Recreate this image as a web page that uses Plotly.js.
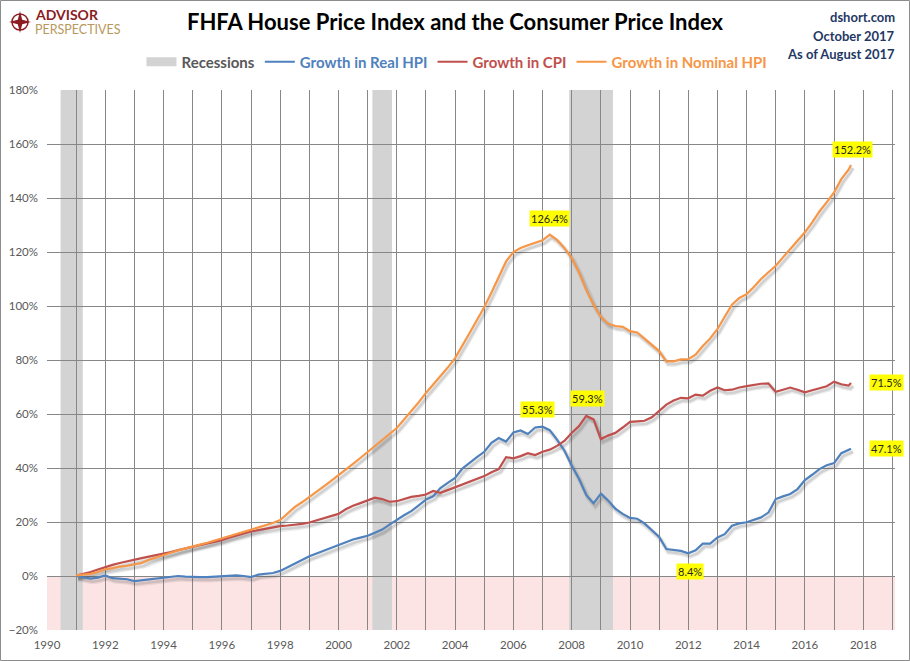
<!DOCTYPE html>
<html><head><meta charset="utf-8">
<script src="https://cdn.plot.ly/plotly-3.0.1.min.js"></script>
<style>html,body{margin:0;padding:0;background:#fff;}#chart{width:910px;height:661px;}</style>
</head><body><div id="chart"></div>
<script>
// ---- DATA (quarterly readings, Jan 1991 .. Aug 2017, % growth since Jan 1991) ----
const firstYear = 1991, lastYear = 2017, lastMonth = '2017-08-01';
const nominalHPI = [
 0.2,0.4,0.8,1.5, 2.5,2.9,3.5,3.8, 4.4,4.8,6.0,6.8, 7.7,8.6,9.5,10.3,
 11.1,11.6,12.3,13.1, 13.9,14.7,15.5,16.2, 17.0,17.8,18.7,19.6, 20.7,23.0,25.5,27.3,
 29.2,31.2,33.2,35.2, 37.2,39.4,41.5,43.7, 46.0,48.3,50.5,52.6, 54.8,57.8,61.0,64.3,
 67.8,70.8,74.0,77.2, 80.7,85.2,90.0,94.8, 99.6,105.0,111.0,116.5, 120.0,121.5,122.5,123.5,
 124.3,126.4,124.5,121.5, 117.8,112.5,106.0,100.5, 96.0,93.5,92.6,92.3, 90.7,90.2,88.0,85.5,
 83.3,79.5,79.5,80.2, 80.3,82.0,85.2,88.0, 91.5,96.0,100.5,103.0, 104.4,107.0,110.0,112.5,
 114.9,118.0,121.1,124.2, 127.3,131.0,135.0,138.5, 142.1,147.0,150.5,152.2];
const realHPI = [
 0.0,-0.6,-1.0,-0.6, 0.2,-0.8,-1.0,-1.2, -1.9,-1.6,-1.4,-1.0, -0.6,-0.3,0.0,-0.2,
 -0.4,-0.4,-0.4,-0.2, 0.0,0.1,0.2,0.0, -0.4,0.5,0.8,1.1, 1.9,3.3,4.6,5.9,
 7.3,8.3,9.3,10.2, 11.4,12.4,13.5,14.2, 14.9,16.0,17.2,19.0, 20.9,22.5,24.0,26.2,
 28.3,29.5,32.6,34.5, 36.3,39.8,42.0,44.0, 46.0,49.3,51.1,49.8, 53.2,53.9,52.6,55.0,
 55.3,54.0,50.5,46.5, 40.9,36.0,30.0,26.9, 30.5,28.0,24.9,23.0, 21.5,21.2,19.5,17.0,
 14.5,10.0,9.6,9.3, 8.4,9.5,12.0,12.0, 14.3,15.5,18.6,19.5, 19.9,20.8,21.7,23.5,
 28.5,29.5,30.4,32.2, 35.5,37.5,39.6,41.0, 41.8,45.5,46.8,47.1];
const cpi = [
 0.2,0.8,1.5,2.4, 3.4,4.1,4.8,5.5, 6.1,6.6,7.2,7.7, 8.3,8.9,9.6,10.2,
 10.8,11.5,12.2,12.7, 13.3,14.2,15.0,15.8, 16.5,17.0,17.5,18.0, 18.5,18.7,18.9,19.3,
 19.8,20.6,21.5,22.2, 23.0,24.7,26.0,27.0, 27.9,29.0,28.5,27.5, 27.7,28.5,29.3,29.7,
 30.2,31.5,30.8,31.8, 32.8,33.9,35.0,36.0, 37.0,38.4,39.6,44.0, 43.6,44.4,45.5,44.8,
 46.0,46.8,48.2,50.0, 53.0,55.5,59.3,58.0, 50.7,52.0,53.0,55.0, 57.1,57.3,57.5,58.8,
 61.2,63.5,65.0,66.0, 65.8,67.2,66.8,68.6, 69.8,68.8,69.0,69.8, 70.3,70.8,71.2,71.3,
 68.2,69.0,69.8,69.0, 68.0,68.8,69.5,70.3, 72.0,71.0,70.5,71.5];
const recessionStart = ['1990-06-20','2001-03-01','2007-12-01'];
const recessionEnd   = ['1991-03-25','2001-11-01','2009-06-01'];

// quarterly date axis for the readings
const quarterMonths = ['01','04','07','10'];
const dates = [];
for (let y = firstYear; y <= lastYear; y++) {
  for (const m of quarterMonths) {
    if (y === lastYear && m === '10') continue;
    dates.push(y + '-' + m + '-01');
  }
}
dates.push(lastMonth);

// ---- STYLE ----
const BLUE = '#4F81BD', RED = '#C0504D', ORANGE = '#F79646';
const GRID = '#878787';
const FONT = 'Lato, "Open Sans", "DejaVu Sans", sans-serif';
const L = 47, R = 15, T = 90, B = 31, W = 910, H = 661;
const PW = W - L - R, PH = H - T - B;
const px2x = p => (p - L) / PW;
const py2y = p => (H - B - p) / PH;

const series = [
  {name: 'Growth in Real HPI', y: realHPI, color: BLUE},
  {name: 'Growth in CPI', y: cpi, color: RED},
  {name: 'Growth in Nominal HPI', y: nominalHPI, color: ORANGE}
];

const traces = [];
traces.push({x: [null], y: [null], type: 'scatter', mode: 'lines',
  line: {color: '#D3D3D3', width: 9}, name: '<b>Recessions</b>', xaxis: 'x', yaxis: 'y', hoverinfo: 'skip'});
series.forEach(s => traces.push({x: dates, y: s.y, type: 'scatter', mode: 'lines',
  line: {color: 'rgba(60,60,60,0.10)', width: 5}, showlegend: false, xaxis: 'x2', yaxis: 'y2', hoverinfo: 'skip'}));
series.forEach(s => traces.push({x: dates, y: s.y, type: 'scatter', mode: 'lines',
  line: {color: 'rgba(60,60,60,0.14)', width: 2.5}, showlegend: false, xaxis: 'x2', yaxis: 'y2', hoverinfo: 'skip'}));
series.forEach(s => traces.push({x: dates, y: s.y, type: 'scatter', mode: 'lines',
  line: {color: s.color, width: 2.2}, name: '<b><span style="color:' + s.color + '">' + s.name + '</span></b>',
  xaxis: 'x3', yaxis: 'y3'}));

const shapes = [];
shapes.push({type: 'rect', xref: 'x', yref: 'y', x0: '1990-01-01', x1: '2019-02-03', y0: -20, y1: 0,
  fillcolor: '#FDE4E4', line: {width: 0}, layer: 'below'});
recessionStart.forEach((s, i) => shapes.push({type: 'rect', xref: 'x', yref: 'y', x0: s, x1: recessionEnd[i],
  y0: -20, y1: 180, fillcolor: '#D3D3D3', line: {width: 0}, layer: 'below'}));
// outer frame
shapes.push({type: 'rect', xref: 'paper', yref: 'paper', x0: px2x(0.5), x1: px2x(909.5), y0: py2y(660.5), y1: py2y(0.5),
  line: {color: '#8C8C8C', width: 1}, fillcolor: 'rgba(0,0,0,0)', layer: 'above'});
// logo compass
const cx = 20, cy = 22;
shapes.push({type: 'circle', xref: 'paper', yref: 'paper', x0: px2x(cx - 8), x1: px2x(cx + 8), y0: py2y(cy + 8), y1: py2y(cy - 8),
  line: {color: '#8B1C22', width: 1.5}, fillcolor: 'rgba(0,0,0,0)'});
const star = [[cx, cy - 11], [cx + 2.2, cy - 2.2], [cx + 11, cy], [cx + 2.2, cy + 2.2], [cx, cy + 11], [cx - 2.2, cy + 2.2], [cx - 11, cy], [cx - 2.2, cy - 2.2]];
shapes.push({type: 'path', xref: 'paper', yref: 'paper',
  path: 'M' + star.map(p => px2x(p[0]) + ',' + py2y(p[1])).join(' L') + ' Z',
  fillcolor: '#8B1C22', line: {width: 0}});

const argMax = (arr, a, b) => { let k = a; for (let i = a; i < b; i++) if (arr[i] > arr[k]) k = i; return k; };
const argMin = (arr, a, b) => { let k = a; for (let i = a; i < b; i++) if (arr[i] < arr[k]) k = i; return k; };
const last = dates.length - 1;
const recA = dates.findIndex(d => d >= recessionStart[2]);
const recB = dates.findIndex(d => d > recessionEnd[2]);
const iMaxN = argMax(nominalHPI, 0, recB);        // pre-crash nominal peak
const iMaxR = argMax(realHPI, 0, recB);           // pre-crash real peak
const iMinR = argMin(realHPI, iMaxR, dates.length); // post-crash real trough
const iMaxC = argMax(cpi, recA, recB);            // CPI peak inside the 2007-09 recession
const lab = (i, arr, dx, dy) => ({x: dates[i], y: arr[i], xref: 'x', yref: 'y', text: arr[i].toFixed(1) + '%',
  showarrow: false, xshift: dx, yshift: dy, bgcolor: '#FFFF00', borderpad: 1,
  font: {family: FONT, size: 11, color: '#262626'}});

const annotations = [
  lab(iMaxN, nominalHPI, 0, 16),
  lab(last, nominalHPI, 1, 16),
  lab(iMaxR, realHPI, -5, 17),
  lab(iMaxC, cpi, 1, 17),
  lab(last, cpi, 35, 0),
  lab(last, realHPI, 35, 0),
  lab(iMinR, realHPI, 2, -18),
  {xref: 'paper', yref: 'paper', x: px2x(897), y: py2y(17), xanchor: 'right', yanchor: 'middle', showarrow: false,
   text: '<b>dshort.com</b>', font: {family: FONT, size: 13, color: '#1F3864'}},
  {xref: 'paper', yref: 'paper', x: px2x(897), y: py2y(36), xanchor: 'right', yanchor: 'middle', showarrow: false,
   text: '<b>October 2017</b>', font: {family: FONT, size: 13, color: '#1F3864'}},
  {xref: 'paper', yref: 'paper', x: px2x(897), y: py2y(54), xanchor: 'right', yanchor: 'middle', showarrow: false,
   text: '<b>As of August 2017</b>', font: {family: FONT, size: 13, color: '#1F3864'}},
  {xref: 'paper', yref: 'paper', x: px2x(33), y: py2y(14.5), xanchor: 'left', yanchor: 'middle', showarrow: false,
   text: '<b>ADVISOR</b>', font: {family: FONT, size: 14, color: '#8B1C22'}},
  {xref: 'paper', yref: 'paper', x: px2x(33), y: py2y(29), xanchor: 'left', yanchor: 'middle', showarrow: false,
   text: 'PERSPECTIVES', font: {family: FONT, size: 12.5, color: '#B8985C'}}
];

const axisCommon = {fixedrange: true, zeroline: false, showline: false, ticks: ''};
const layout = {
  width: W, height: H,
  margin: {l: L, r: R, t: T, b: B, pad: 0},
  paper_bgcolor: '#ffffff', plot_bgcolor: '#ffffff',
  font: {family: FONT, color: '#595959', size: 11},
  title: {text: '<b>FHFA House Price Index and the Consumer Price Index</b>', xref: 'container', x: 0.5, xanchor: 'center',
    yref: 'container', y: 1 - 22 / H, yanchor: 'middle', font: {family: FONT, size: 22, color: '#000000'}},
  showlegend: true,
  legend: {orientation: 'h', x: px2x(457), xanchor: 'center', y: py2y(62), yanchor: 'middle',
    font: {family: FONT, size: 15, color: '#595959'}, bgcolor: 'rgba(0,0,0,0)', itemwidth: 30, traceorder: 'normal'},
  xaxis: Object.assign({}, axisCommon, {type: 'date', range: ['1990-01-01', '2019-02-03'], tick0: '1990-01-01', dtick: 'M24',
    tickformat: '%Y', showgrid: true, gridcolor: GRID, gridwidth: 1, ticklabelstandoff: 6,
    minor: {tick0: '1990-01-01', dtick: 'M12', showgrid: true, gridcolor: GRID, gridwidth: 1, ticks: ''},
    tickfont: {family: FONT, size: 11.5, color: '#595959'}}),
  yaxis: Object.assign({}, axisCommon, {range: [-20, 180], dtick: 20, ticksuffix: '%', showgrid: true, gridcolor: GRID,
    gridwidth: 1, ticklabelstandoff: 8, tickfont: {family: FONT, size: 11.5, color: '#595959'}}),
  xaxis2: Object.assign({}, axisCommon, {type: 'date', overlaying: 'x', anchor: 'y2', range: ['1989-12-07', '2019-01-10'], visible: false}),
  yaxis2: Object.assign({}, axisCommon, {overlaying: 'y', anchor: 'x2', range: [-18.9, 181.1], visible: false}),
  xaxis3: Object.assign({}, axisCommon, {type: 'date', overlaying: 'x', anchor: 'y3', range: ['1990-01-01', '2019-02-03'], visible: false}),
  yaxis3: Object.assign({}, axisCommon, {overlaying: 'y', anchor: 'x3', range: [-20, 180], visible: false}),
  shapes: shapes,
  annotations: annotations
};
Plotly.newPlot('chart', traces, layout, {displayModeBar: false, staticPlot: true});
</script></body></html>
